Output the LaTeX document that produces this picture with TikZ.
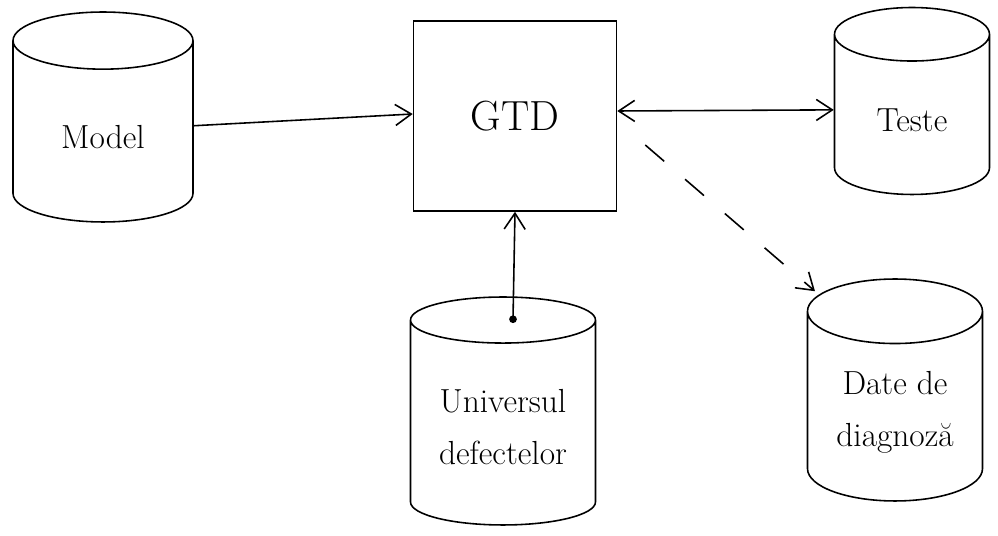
\documentclass[tikz,border=0pt]{standalone}
\usepackage{fontspec}
\usepackage{tikz}
\usetikzlibrary{arrows.meta,calc,shapes.geometric}

\tikzset{
  store/.style={draw, cylinder, shape border rotate=90, aspect=0.6, anchor=shape center,
    line width=0.9pt, align=center, font=\fontsize{19}{30}\selectfont},
  flow/.style={line width=0.9pt},
}

\begin{document}
\begin{tikzpicture}[x=0.02cm, y=-0.02cm, >={Straight Barb[length=3.2mm, width=4.2mm]}]
	%%%%% START %%%%%
	\useasboundingbox (0,0) rectangle (998,536);

	% stores and the generator
	\node[store, minimum width=3.6cm, minimum height=4.2cm] (model) at (103,117) {Model};
	\node[draw, line width=0.9pt, minimum width=4.06cm, minimum height=3.8cm,
		font=\fontsize{24}{28}\selectfont] (gtd) at (515,116) {GTD};
	\node[store, aspect=0.65, minimum width=3.1cm, minimum height=3.74cm] (teste) at (912,101) {Teste};
	\node[store, aspect=0.33, minimum width=3.7cm, minimum height=4.56cm] (univ) at (503,411) {Universul\\defectelor};
	\node[store, aspect=0.5, minimum width=3.5cm, minimum height=4.44cm] (date) at (895,390) {Date de\\diagnoză};

	% links
	\draw[flow, ->] ($(model.east)+(0,-11)$) -- ($(gtd.west)+(0,-2)$);
	\draw[flow, <->] ($(gtd.east)+(0,-5)$) -- ($(teste.west)+(0,-10)$);

	\coordinate (univtop) at ($(univ.north)+(10,23)$);
	\fill (univtop) circle (2.2pt);
	\draw[flow, ->] (univtop) -- (gtd.south);

	\coordinate (dashfrom) at ($(gtd.east)+(28,29)$);
	\coordinate (dashto) at ($(date.north)+(-80,13)$);
	\draw[flow, ->, dash pattern=on 0.5cm off 0.55cm] (dashfrom) -- (dashto);
	%%%%% END %%%%%
\end{tikzpicture}
\end{document}
